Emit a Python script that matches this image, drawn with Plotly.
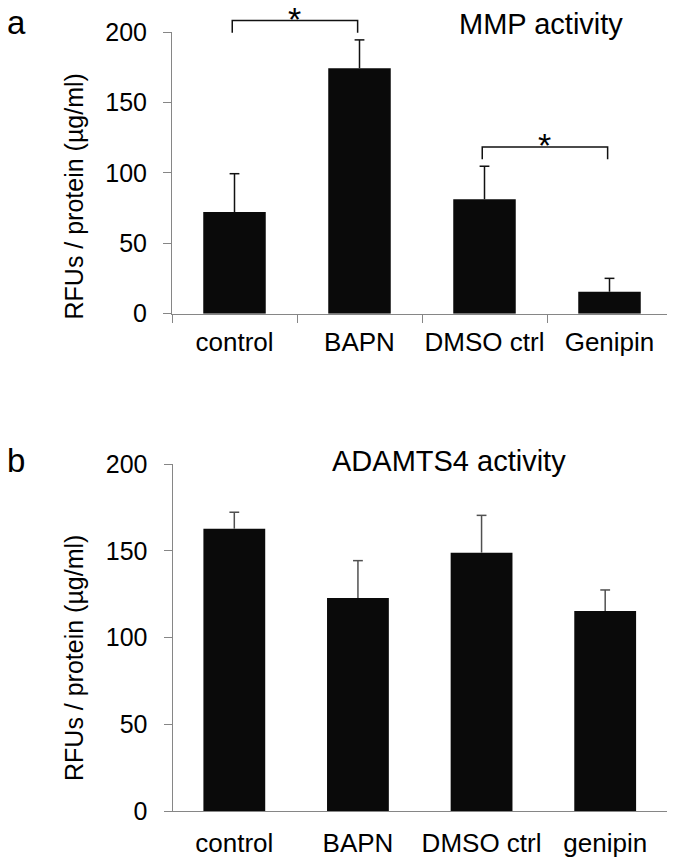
import plotly.graph_objects as go

# ---- data ----
cats_a = ["control", "BAPN", "DMSO ctrl", "Genipin"]
mmp_mean = [72.2, 174.3, 81.2, 15.6]
mmp_err = [27.2, 20.1, 23.5, 9.5]

cats_b = ["control", "BAPN", "DMSO ctrl", "genipin"]
adamts_mean = [162.7, 122.8, 148.9, 115.3]
adamts_err = [9.5, 21.5, 21.5, 12.1]

y_ticks = [0, 50, 100, 150, 200]
y_range = [0, 200]
sig_pairs_a = [(0, 1), (2, 3)]

# ---- layout helpers (screen px -> paper fraction, page body margin 8px) ----
W, H = 675, 860
OFF = 8
FONT = "Liberation Sans, Arial, Helvetica, sans-serif"
AX = "#868686"


def px(x):
    return (x - OFF) / W


def py(y):
    return 1 - (y - OFF) / H


XA = [px(172), px(672)]
YA = [py(313.7), py(32)]
XB = [px(172.5), px(667)]
YB = [py(811), py(464)]

fig = go.Figure()


def add_panel(cats, mean, err, xa, ya, ecolor):
    fig.add_trace(go.Bar(
        x=cats, y=mean, width=0.5, marker=dict(color="#0a0a0a", line=dict(width=0)),
        xaxis=xa, yaxis=ya, hoverinfo="x+y"))
    tops = [m + e for m, e in zip(mean, err)]
    fig.add_trace(go.Scatter(
        x=cats, y=tops, mode="markers", xaxis=xa, yaxis=ya, cliponaxis=False,
        marker=dict(symbol="line-ew", size=7, line=dict(color=ecolor, width=1.5)),
        error_y=dict(type="data", symmetric=False, array=[0] * len(err), arrayminus=err,
                     color=ecolor, thickness=1.5, width=0),
        hoverinfo="skip"))


add_panel(cats_a, mmp_mean, mmp_err, "x", "y", "#111111")
add_panel(cats_b, adamts_mean, adamts_err, "x2", "y2", "#505050")

ytickfont = dict(family=FONT, size=25, color="#000000")
xtickfont = dict(family=FONT, size=26, color="#000000")

yax = dict(range=y_range, tickvals=y_ticks, showline=True, linecolor=AX, linewidth=1,
           ticks="outside", ticklen=8, tickcolor=AX, tickwidth=1, showgrid=False,
           zeroline=False, tickfont=ytickfont, ticklabelstandoff=11, automargin=False,
           fixedrange=True)

fig.update_layout(
    width=W, height=H, margin=dict(l=0, r=0, t=0, b=0, autoexpand=False),
    paper_bgcolor="white", plot_bgcolor="white", showlegend=False,
    xaxis=dict(domain=XA, anchor="y", showline=True, linecolor=AX, linewidth=1,
               ticks="outside", ticklen=8, tickcolor=AX, tickson="boundaries",
               tickangle=0, showgrid=False, tickfont=xtickfont, ticklabelstandoff=5,
               automargin=False, fixedrange=True),
    yaxis=dict(domain=YA, anchor="x", **yax),
    xaxis2=dict(domain=XB, anchor="y2", showline=True, linecolor=AX, linewidth=1,
                ticks="outside", ticklen=8, tickcolor="rgba(0,0,0,0)", tickangle=0,
                showgrid=False, tickfont=xtickfont, ticklabelstandoff=1, automargin=False,
                fixedrange=True),
    yaxis2=dict(domain=YB, anchor="x2", **yax),
)


# significance brackets (panel a), mapped with the axis' linear scale
def xa_frac(idx):
    return XA[0] + (idx + 0.5) / len(cats_a) * (XA[1] - XA[0])


def ya_frac(v):
    return YA[0] + (v - y_range[0]) / (y_range[1] - y_range[0]) * (YA[1] - YA[0])


for i, j in sig_pairs_a:
    base = max(mmp_mean[i] + mmp_err[i], mmp_mean[j] + mmp_err[j]) + 5
    top = base + 8.7
    x0, x1 = xa_frac(i - 0.018), xa_frac(j - 0.015)
    y0, y1 = ya_frac(base), ya_frac(top)
    fig.add_shape(type="path", xref="paper", yref="paper",
                  path=f"M {x0} {y0} L {x0} {y1} L {x1} {y1} L {x1} {y0}",
                  line=dict(color="#111111", width=1.5))
    fig.add_annotation(x=(x0 + x1) / 2, y=y1, xref="paper", yref="paper", text="*",
                       showarrow=False, xanchor="center", yanchor="middle", yshift=2,
                       font=dict(family=FONT, size=34, color="#000000"))

ann_font = dict(family=FONT, size=29, color="#000000")
fig.add_annotation(x=px(541), y=py(24), xref="paper", yref="paper", text="MMP activity",
                   showarrow=False, xanchor="center", yanchor="middle", font=ann_font)
fig.add_annotation(x=px(449), y=py(461), xref="paper", yref="paper", text="ADAMTS4 activity",
                   showarrow=False, xanchor="center", yanchor="middle", font=ann_font)

lab_font = dict(family=FONT, size=33, color="#000000")
fig.add_annotation(x=px(16), y=py(22), xref="paper", yref="paper", text="a",
                   showarrow=False, xanchor="center", yanchor="middle", font=lab_font)
fig.add_annotation(x=px(16), y=py(460), xref="paper", yref="paper", text="b",
                   showarrow=False, xanchor="center", yanchor="middle", font=lab_font)

ytitle = "RFUs / protein (µg/ml)"
for yc in (196.5, 658):
    fig.add_annotation(x=px(74), y=py(yc), xref="paper", yref="paper", text=ytitle,
                       textangle=-90, showarrow=False, xanchor="center", yanchor="middle",
                       font=dict(family=FONT, size=25, color="#000000"))

fig.write_html("out.html")
